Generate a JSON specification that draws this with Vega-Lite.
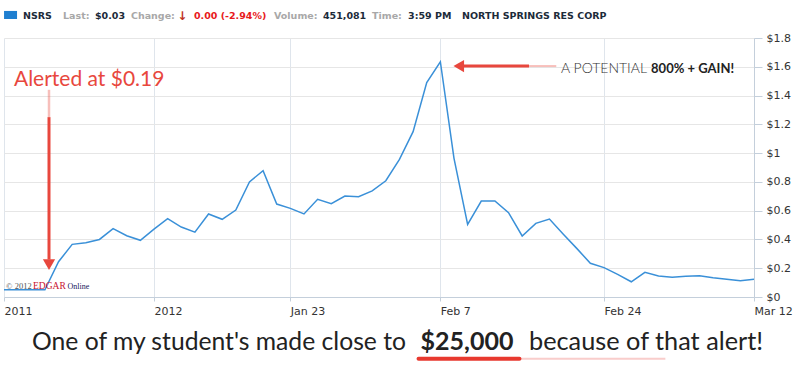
{
  "$schema": "https://vega.github.io/schema/vega-lite/v6.json",
  "width": 750,
  "height": 259,
  "autosize": "none",
  "padding": {"left": 4, "top": 38, "right": 45, "bottom": 68},
  "background": "white",
  "config": {
    "view": {"stroke": null},
    "axisY": {
      "tickCount": 12, "labelExpr": "'$' + datum.value",
      "labelOverlap": false, "labelFlush": false,
      "grid": true, "gridColor": "#e6e6e6", "gridWidth": 1,
      "domainColor": "#c4cfdb", "tickColor": "#c4cfdb", "tickSize": 8,
      "labelPadding": 4, "labelFont": "DejaVu Sans", "labelFontSize": 11, "labelColor": "#333333",
      "labelBaseline": "middle", "title": null
    },
    "axisX": {
      "grid": true, "gridColor": "#dfe5ec", "gridWidth": 1,
      "domainColor": "#c4cfdb", "tickColor": "#c4cfdb", "tickSize": 4,
      "labelAlign": "left", "labelDx": 2, "labelPadding": 4,
      "labelFlush": false, "labelOverlap": false,
      "labelFont": "DejaVu Sans", "labelFontSize": 11, "labelColor": "#333333", "title": null
    }
  },
  "datasets": {
    "price": [
      {"i": 0, "price": 0.05}, {"i": 1, "price": 0.05}, {"i": 2, "price": 0.05}, {"i": 3, "price": 0.05},
      {"i": 4, "price": 0.245}, {"i": 5, "price": 0.366}, {"i": 6, "price": 0.377}, {"i": 7, "price": 0.40},
      {"i": 8, "price": 0.475}, {"i": 9, "price": 0.426}, {"i": 10, "price": 0.394}, {"i": 11, "price": 0.472},
      {"i": 12, "price": 0.544}, {"i": 13, "price": 0.486}, {"i": 14, "price": 0.451}, {"i": 15, "price": 0.577},
      {"i": 16, "price": 0.54}, {"i": 17, "price": 0.604}, {"i": 18, "price": 0.80}, {"i": 19, "price": 0.878},
      {"i": 20, "price": 0.646}, {"i": 21, "price": 0.616}, {"i": 22, "price": 0.577}, {"i": 23, "price": 0.679},
      {"i": 24, "price": 0.648}, {"i": 25, "price": 0.702}, {"i": 26, "price": 0.697}, {"i": 27, "price": 0.737},
      {"i": 28, "price": 0.808}, {"i": 29, "price": 0.957}, {"i": 30, "price": 1.149}, {"i": 31, "price": 1.49},
      {"i": 32, "price": 1.635}, {"i": 33, "price": 0.964}, {"i": 34, "price": 0.505}, {"i": 35, "price": 0.667},
      {"i": 36, "price": 0.667}, {"i": 37, "price": 0.586}, {"i": 38, "price": 0.424}, {"i": 39, "price": 0.512},
      {"i": 40, "price": 0.542}, {"i": 41, "price": 0.438}, {"i": 42, "price": 0.338}, {"i": 43, "price": 0.234},
      {"i": 44, "price": 0.204}, {"i": 45, "price": 0.157}, {"i": 46, "price": 0.106}, {"i": 47, "price": 0.171},
      {"i": 48, "price": 0.146}, {"i": 49, "price": 0.137}, {"i": 50, "price": 0.144}, {"i": 51, "price": 0.148},
      {"i": 52, "price": 0.134}, {"i": 53, "price": 0.123}, {"i": 54, "price": 0.113}, {"i": 55, "price": 0.123}
    ],
    "one": [{}]
  },
  "layer": [
    {
      "data": {"name": "price"},
      "mark": {"type": "line", "color": "#3a90d8", "strokeWidth": 1.5, "clip": false},
      "encoding": {
        "x": {
          "field": "i", "type": "quantitative", "title": null,
          "scale": {"domain": [0, 55], "nice": false, "zero": false},
          "axis": {
            "title": null, "orient": "bottom",
            "values": [0, 11, 21, 32, 44, 55],
            "labelExpr": "datum.value == 0 ? '2011' : datum.value == 11 ? '2012' : datum.value == 21 ? 'Jan 23' : datum.value == 32 ? 'Feb 7' : datum.value == 44 ? 'Feb 24' : 'Mar 12'"
          }
        },
        "y": {
          "field": "price", "type": "quantitative", "title": null,
          "scale": {"domain": [0, 1.8], "nice": false, "zero": false},
          "axis": {"title": null, "orient": "right", "tickCount": 12, "values": [0, 0.2, 0.4, 0.6, 0.8, 1, 1.2, 1.4, 1.6, 1.8]}
        }
      }
    },
    {
      "data": {"name": "one"},
      "mark": {"type": "point", "shape": "M-1,-0.62H1V0.62H-1Z", "size": 169, "filled": true, "color": "#1f7fd0", "opacity": 1, "strokeWidth": 0},
      "encoding": {"x": {"datum": 0.48, "type": "quantitative", "title": null}, "y": {"datum": 1.96, "type": "quantitative", "title": null, "axis": {"orient": "right"}}}
    },
    {
      "data": {"name": "one"},
      "mark": {"type": "text", "text": "NSRS", "align": "left", "baseline": "alphabetic", "font": "DejaVu Sans", "fontSize": 9.5, "fontWeight": "bold", "color": "#1c2b3a"},
      "encoding": {"x": {"datum": 1.39, "type": "quantitative", "title": null}, "y": {"datum": 1.932, "type": "quantitative", "title": null, "axis": {"orient": "right"}}}
    },
    {
      "data": {"name": "one"},
      "mark": {"type": "text", "text": "Last:", "align": "left", "baseline": "alphabetic", "font": "DejaVu Sans", "fontSize": 9.5, "fontWeight": "bold", "color": "#a8a8a8"},
      "encoding": {"x": {"datum": 4.33, "type": "quantitative", "title": null}, "y": {"datum": 1.932, "type": "quantitative", "title": null, "axis": {"orient": "right"}}}
    },
    {
      "data": {"name": "one"},
      "mark": {"type": "text", "text": "$0.03", "align": "left", "baseline": "alphabetic", "font": "DejaVu Sans", "fontSize": 9.5, "fontWeight": "bold", "color": "#1c2b3a"},
      "encoding": {"x": {"datum": 6.67, "type": "quantitative", "title": null}, "y": {"datum": 1.932, "type": "quantitative", "title": null, "axis": {"orient": "right"}}}
    },
    {
      "data": {"name": "one"},
      "mark": {"type": "text", "text": "Change:", "align": "left", "baseline": "alphabetic", "font": "DejaVu Sans", "fontSize": 9.5, "fontWeight": "bold", "color": "#a8a8a8"},
      "encoding": {"x": {"datum": 9.31, "type": "quantitative", "title": null}, "y": {"datum": 1.932, "type": "quantitative", "title": null, "axis": {"orient": "right"}}}
    },
    {
      "data": {"name": "one"},
      "mark": {"type": "text", "text": "↓", "align": "left", "baseline": "alphabetic", "font": "DejaVu Sans", "fontSize": 12, "fontWeight": "bold", "color": "#c0321f"},
      "encoding": {"x": {"datum": 12.7, "type": "quantitative", "title": null}, "y": {"datum": 1.925, "type": "quantitative", "title": null, "axis": {"orient": "right"}}}
    },
    {
      "data": {"name": "one"},
      "mark": {"type": "text", "text": "0.00 (-2.94%)", "align": "left", "baseline": "alphabetic", "font": "DejaVu Sans", "fontSize": 9.5, "fontWeight": "bold", "color": "#e8191c"},
      "encoding": {"x": {"datum": 13.93, "type": "quantitative", "title": null}, "y": {"datum": 1.932, "type": "quantitative", "title": null, "axis": {"orient": "right"}}}
    },
    {
      "data": {"name": "one"},
      "mark": {"type": "text", "text": "Volume:", "align": "left", "baseline": "alphabetic", "font": "DejaVu Sans", "fontSize": 9.5, "fontWeight": "bold", "color": "#a8a8a8"},
      "encoding": {"x": {"datum": 19.8, "type": "quantitative", "title": null}, "y": {"datum": 1.932, "type": "quantitative", "title": null, "axis": {"orient": "right"}}}
    },
    {
      "data": {"name": "one"},
      "mark": {"type": "text", "text": "451,081", "align": "left", "baseline": "alphabetic", "font": "DejaVu Sans", "fontSize": 9.5, "fontWeight": "bold", "color": "#1c2b3a"},
      "encoding": {"x": {"datum": 23.39, "type": "quantitative", "title": null}, "y": {"datum": 1.932, "type": "quantitative", "title": null, "axis": {"orient": "right"}}}
    },
    {
      "data": {"name": "one"},
      "mark": {"type": "text", "text": "Time:", "align": "left", "baseline": "alphabetic", "font": "DejaVu Sans", "fontSize": 9.5, "fontWeight": "bold", "color": "#a8a8a8"},
      "encoding": {"x": {"datum": 26.99, "type": "quantitative", "title": null}, "y": {"datum": 1.932, "type": "quantitative", "title": null, "axis": {"orient": "right"}}}
    },
    {
      "data": {"name": "one"},
      "mark": {"type": "text", "text": "3:59 PM", "align": "left", "baseline": "alphabetic", "font": "DejaVu Sans", "fontSize": 9.5, "fontWeight": "bold", "color": "#1c2b3a"},
      "encoding": {"x": {"datum": 29.63, "type": "quantitative", "title": null}, "y": {"datum": 1.932, "type": "quantitative", "title": null, "axis": {"orient": "right"}}}
    },
    {
      "data": {"name": "one"},
      "mark": {"type": "text", "text": "NORTH SPRINGS RES CORP", "align": "left", "baseline": "alphabetic", "font": "DejaVu Sans", "fontSize": 9.5, "fontWeight": "bold", "color": "#1c2b3a"},
      "encoding": {"x": {"datum": 33.59, "type": "quantitative", "title": null}, "y": {"datum": 1.932, "type": "quantitative", "title": null, "axis": {"orient": "right"}}}
    },
    {
      "data": {"name": "one"},
      "mark": {"type": "text", "text": "Alerted at $0.19", "align": "left", "baseline": "alphabetic", "font": "Lato", "fontSize": 21, "color": "#e8473d"},
      "encoding": {"x": {"datum": 0.73, "type": "quantitative", "title": null}, "y": {"datum": 1.466, "type": "quantitative", "title": null, "axis": {"orient": "right"}}}
    },
    {
      "data": {"name": "one"},
      "mark": {"type": "rule", "color": "#e8473d", "strokeWidth": 2.5, "opacity": 0.35},
      "encoding": {"x": {"datum": 3.3, "type": "quantitative", "title": null}, "y": {"datum": 1.44, "type": "quantitative", "title": null, "axis": {"orient": "right"}}, "y2": {"datum": 1.25}}
    },
    {
      "data": {"name": "one"},
      "mark": {"type": "rule", "color": "#e8473d", "strokeWidth": 3},
      "encoding": {"x": {"datum": 3.3, "type": "quantitative", "title": null}, "y": {"datum": 1.25, "type": "quantitative", "title": null, "axis": {"orient": "right"}}, "y2": {"datum": 0.26}}
    },
    {
      "data": {"name": "one"},
      "mark": {"type": "point", "shape": "triangle-down", "size": 150, "filled": true, "color": "#e8473d", "opacity": 1, "strokeWidth": 0},
      "encoding": {"x": {"datum": 3.3, "type": "quantitative", "title": null}, "y": {"datum": 0.225, "type": "quantitative", "title": null, "axis": {"orient": "right"}}}
    },
    {
      "data": {"name": "one"},
      "mark": {"type": "rule", "color": "#e8473d", "strokeWidth": 3},
      "encoding": {"x": {"datum": 33.5, "type": "quantitative", "title": null}, "x2": {"datum": 38.5}, "y": {"datum": 1.605, "type": "quantitative", "title": null, "axis": {"orient": "right"}}}
    },
    {
      "data": {"name": "one"},
      "mark": {"type": "rule", "color": "#e8473d", "strokeWidth": 2, "opacity": 0.35},
      "encoding": {"x": {"datum": 38.5, "type": "quantitative", "title": null}, "x2": {"datum": 40.5}, "y": {"datum": 1.605, "type": "quantitative", "title": null, "axis": {"orient": "right"}}}
    },
    {
      "data": {"name": "one"},
      "mark": {"type": "point", "shape": "triangle-left", "size": 150, "filled": true, "color": "#e8473d", "opacity": 1, "strokeWidth": 0},
      "encoding": {"x": {"datum": 33.35, "type": "quantitative", "title": null}, "y": {"datum": 1.605, "type": "quantitative", "title": null, "axis": {"orient": "right"}}}
    },
    {
      "data": {"name": "one"},
      "mark": {"type": "text", "text": "A POTENTIAL", "align": "left", "baseline": "alphabetic", "font": "Lato", "fontSize": 14, "fontWeight": 300, "color": "#333333"},
      "encoding": {"x": {"datum": 40.85, "type": "quantitative", "title": null}, "y": {"datum": 1.557, "type": "quantitative", "title": null, "axis": {"orient": "right"}}}
    },
    {
      "data": {"name": "one"},
      "mark": {"type": "text", "text": "800% + GAIN!", "align": "left", "baseline": "alphabetic", "font": "Lato", "fontSize": 13, "fontWeight": "bold", "color": "#222222"},
      "encoding": {"x": {"datum": 47.45, "type": "quantitative", "title": null}, "y": {"datum": 1.557, "type": "quantitative", "title": null, "axis": {"orient": "right"}}}
    },
    {
      "data": {"name": "one"},
      "mark": {"type": "text", "text": "© 2012", "align": "left", "baseline": "alphabetic", "font": "Liberation Serif", "fontSize": 8.5, "color": "#555555"},
      "encoding": {"x": {"datum": 0.15, "type": "quantitative", "title": null}, "y": {"datum": 0.056, "type": "quantitative", "title": null, "axis": {"orient": "right"}}}
    },
    {
      "data": {"name": "one"},
      "mark": {"type": "text", "text": "EDGAR", "align": "left", "baseline": "alphabetic", "font": "Liberation Serif", "fontSize": 9.5, "color": "#c8102e"},
      "encoding": {"x": {"datum": 2.13, "type": "quantitative", "title": null}, "y": {"datum": 0.056, "type": "quantitative", "title": null, "axis": {"orient": "right"}}}
    },
    {
      "data": {"name": "one"},
      "mark": {"type": "text", "text": "Online", "align": "left", "baseline": "alphabetic", "font": "Liberation Serif", "fontSize": 8, "color": "#1a2060"},
      "encoding": {"x": {"datum": 4.65, "type": "quantitative", "title": null}, "y": {"datum": 0.056, "type": "quantitative", "title": null, "axis": {"orient": "right"}}}
    },
    {
      "data": {"name": "one"},
      "mark": {"type": "text", "text": "One of my student's made close to", "align": "right", "baseline": "alphabetic", "font": "Lato", "fontSize": 24.7, "color": "#222222"},
      "encoding": {"x": {"datum": 29.48, "type": "quantitative", "title": null}, "y": {"datum": -0.37, "type": "quantitative", "title": null, "axis": {"orient": "right"}}}
    },
    {
      "data": {"name": "one"},
      "mark": {"type": "text", "text": "$25,000", "align": "center", "baseline": "alphabetic", "font": "Lato", "fontSize": 25, "fontWeight": "bold", "color": "#222222"},
      "encoding": {"x": {"datum": 33.95, "type": "quantitative", "title": null}, "y": {"datum": -0.37, "type": "quantitative", "title": null, "axis": {"orient": "right"}}}
    },
    {
      "data": {"name": "one"},
      "mark": {"type": "text", "text": "because of that alert!", "align": "left", "baseline": "alphabetic", "font": "Lato", "fontSize": 25.3, "color": "#222222"},
      "encoding": {"x": {"datum": 38.5, "type": "quantitative", "title": null}, "y": {"datum": -0.37, "type": "quantitative", "title": null, "axis": {"orient": "right"}}}
    },
    {
      "data": {"name": "one"},
      "mark": {"type": "rule", "color": "#e8392f", "strokeWidth": 4, "strokeCap": "round"},
      "encoding": {"x": {"datum": 30.4, "type": "quantitative", "title": null}, "x2": {"datum": 37.8}, "y": {"datum": -0.43, "type": "quantitative", "title": null, "axis": {"orient": "right"}}}
    },
    {
      "data": {"name": "one"},
      "mark": {"type": "rule", "color": "#e8392f", "strokeWidth": 2, "opacity": 0.25},
      "encoding": {"x": {"datum": 37.8, "type": "quantitative", "title": null}, "x2": {"datum": 48.5}, "y": {"datum": -0.43, "type": "quantitative", "title": null, "axis": {"orient": "right"}}}
    }
  ]
}
